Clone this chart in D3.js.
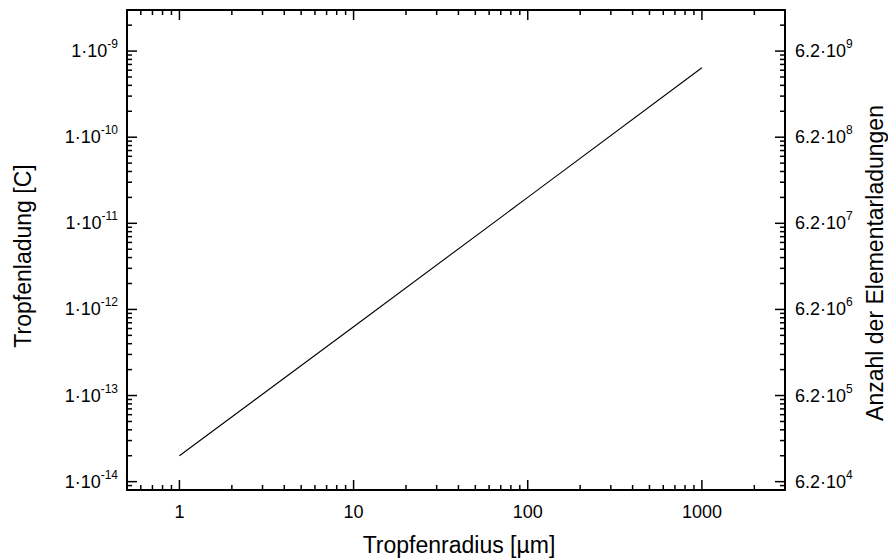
<!DOCTYPE html>
<html>
<head>
<meta charset="utf-8">
<script src="https://cdn.jsdelivr.net/npm/d3@7"></script>
<style>
  body { margin: 0; background: #fff; }
  text { font-family: "Liberation Sans", Arial, sans-serif; fill: #000; }
</style>
</head>
<body>
<div id="chart"></div>
<script>
// values
const radius = [1, 10, 100, 1000];                 // µm
const charge = [2.0e-14, 6.3e-13, 2.0e-11, 6.4e-10]; // C
const xTickLabels = ["1", "10", "100", "1000"];
const yExponents = [-14, -13, -12, -11, -10, -9];
const rightExponents = [4, 5, 6, 7, 8, 9];
const rightMantissa = "6.2";

const width = 888, height = 560;
const pLeft = 127, pRight = 785, pTop = 10, pBottom = 490;

const svg = d3.select('#chart')
  .append('svg')
  .attr('width', width)
  .attr('height', height);

const x = d3.scaleLog().domain([0.5, 3000]).range([pLeft, pRight]);
const y = d3.scaleLog().domain([8e-15, 3e-9]).range([pBottom, pTop]);

// tick values: majors + minors (2..9 in each decade)
function logTicks(domain) {
  const out = [];
  const lo = Math.floor(Math.log10(domain[0])), hi = Math.ceil(Math.log10(domain[1]));
  for (let e = lo; e <= hi; e++) {
    for (let m = 1; m <= 9; m++) {
      const v = +(m * Math.pow(10, e)).toPrecision(3);
      if (v >= domain[0] * 0.999 && v <= domain[1] * 1.001) out.push({ v, major: m === 1 });
    }
  }
  return out;
}
const xt = logTicks(x.domain());
const yt = logTicks(y.domain());
const majorLen = 10, minorLen = 5;

const ticks = svg.append('g').attr('stroke', '#000').attr('stroke-width', 1.5);
xt.forEach(t => {
  const px = x(t.v), len = t.major ? majorLen : minorLen;
  ticks.append('line').attr('x1', px).attr('x2', px).attr('y1', pBottom).attr('y2', pBottom - len);
  ticks.append('line').attr('x1', px).attr('x2', px).attr('y1', pTop).attr('y2', pTop + len);
});
yt.forEach(t => {
  const py = y(t.v), len = t.major ? majorLen : minorLen;
  ticks.append('line').attr('x1', pLeft).attr('x2', pLeft + len).attr('y1', py).attr('y2', py);
  ticks.append('line').attr('x1', pRight).attr('x2', pRight - len).attr('y1', py).attr('y2', py);
});

// frame
svg.append('rect')
  .attr('x', pLeft).attr('y', pTop)
  .attr('width', pRight - pLeft).attr('height', pBottom - pTop)
  .attr('fill', 'none').attr('stroke', '#000').attr('stroke-width', 2);

// x tick labels
svg.append('g').selectAll('text')
  .data(radius)
  .enter()
  .append('text')
  .attr('x', d => x(d))
  .attr('y', 518)
  .attr('text-anchor', 'middle')
  .style('font-size', '18px')
  .text((d, i) => xTickLabels[i]);

// left y tick labels
const yl = svg.append('g').selectAll('text')
  .data(yExponents)
  .enter()
  .append('text')
  .attr('x', 118)
  .attr('y', d => y(Math.pow(10, d)) + 6)
  .attr('text-anchor', 'end')
  .style('font-size', '18px');
yl.append('tspan').text('1·10');
yl.append('tspan').attr('dy', -9).style('font-size', '12px').text(d => d);

// right y tick labels (same positions as the left decades)
const yr = svg.append('g').selectAll('text')
  .data(rightExponents)
  .enter()
  .append('text')
  .attr('x', 795)
  .attr('y', (d, i) => y(Math.pow(10, yExponents[i])) + 6)
  .style('font-size', '18px');
yr.append('tspan').text(rightMantissa + '·10');
yr.append('tspan').attr('dy', -9).style('font-size', '12px').text(d => d);

// curve
svg.append('path')
  .datum(radius.map((r, i) => [r, charge[i]]))
  .attr('d', d3.line().x(d => x(d[0])).y(d => y(d[1])))
  .attr('fill', 'none')
  .attr('stroke', '#000')
  .attr('stroke-width', 1.1);

// axis titles
svg.append('text')
  .attr('x', 459)
  .attr('y', 553)
  .attr('text-anchor', 'middle')
  .style('font-size', '23px')
  .text('Tropfenradius [µm]');

svg.append('text')
  .attr('transform', 'translate(31,256) rotate(-90)')
  .attr('text-anchor', 'middle')
  .style('font-size', '23px')
  .text('Tropfenladung [C]');

svg.append('text')
  .attr('transform', 'translate(883,263) rotate(-90)')
  .attr('text-anchor', 'middle')
  .style('font-size', '23px')
  .text('Anzahl der Elementarladungen');
</script>
</body>
</html>
